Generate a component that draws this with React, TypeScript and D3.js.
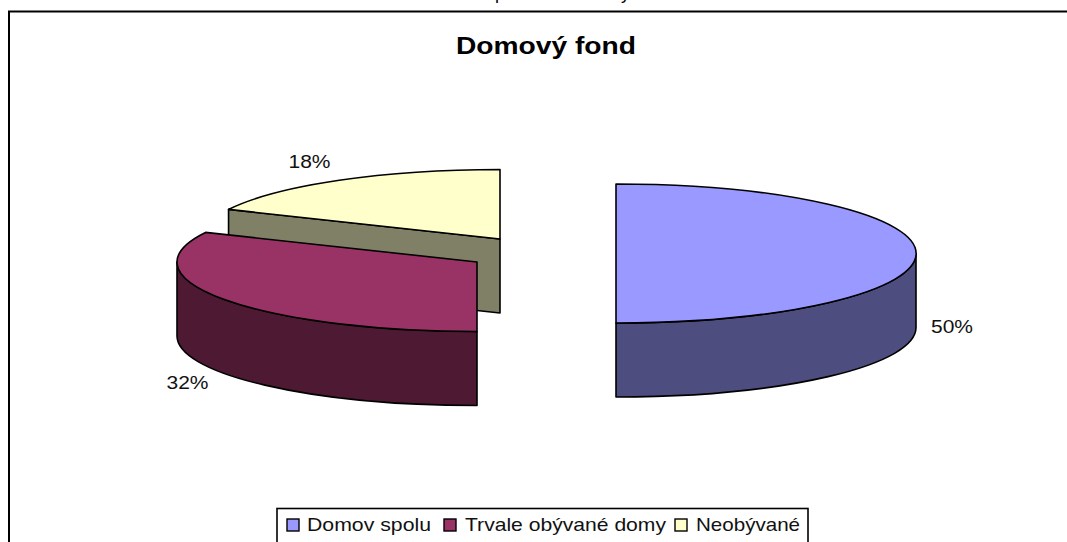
import React from "react";
import * as d3 from "d3";

const categories = ["Domov spolu", "Trvale obývané domy", "Neobývané"];
const values = [50, 32, 18];
const labels = ["50%", "32%", "18%"];
const topColors = ["#9999FF", "#993366", "#FFFFCC"];
const sideColors = ["#4D4D80", "#4D1933", "#808066"];

const RX = 300, RY = 69.5, DEPTH = 74;
const centers = [
  { x: 616, y: 253.5 },
  { x: 477, y: 262 },
  { x: 500, y: 239 },
];
const labelPos = [
  { x: 952, y: 333 },
  { x: 187.5, y: 389 },
  { x: 309.5, y: 168 },
];
const legendSwatchX = [287, 444, 675];
const legendTextX = [307, 465, 696];
const legendTextW = [124, 201, 104];

const pt = (c: { x: number; y: number }, a: number, dy = 0): [number, number] => [
  c.x + RX * Math.sin(a),
  c.y - RY * Math.cos(a) + dy,
];

const pieGen = d3.pie<number>().sort(null);
const arcs = pieGen(values);

function topPath(i: number) {
  const c = centers[i], a0 = arcs[i].startAngle, a1 = arcs[i].endAngle;
  const p0 = pt(c, a0), p1 = pt(c, a1);
  return `M${c.x},${c.y}L${p0}A${RX},${RY} 0 ${a1 - a0 > Math.PI ? 1 : 0} 1 ${p1}Z`;
}
function wallPath(i: number, a0: number, a1: number) {
  const c = centers[i];
  const p0 = pt(c, a0), p1 = pt(c, a1), q1 = pt(c, a1, DEPTH), q0 = pt(c, a0, DEPTH);
  return `M${p0}A${RX},${RY} 0 0 1 ${p1}L${q1}A${RX},${RY} 0 0 0 ${q0}Z`;
}
function cutPath(i: number, a: number) {
  const c = centers[i];
  const p = pt(c, a), q = pt(c, a, DEPTH);
  return `M${c.x},${c.y}L${p}L${q}L${c.x},${c.y + DEPTH}Z`;
}

const font = "Liberation Sans, Arial, sans-serif";
const stroke = { stroke: "#000", strokeWidth: 1.6, strokeLinejoin: "round" as const };

export default function App() {
  return (
    <svg width={1067} height={542} style={{ position: "absolute", left: 0, top: 0, background: "#fff" }}>
      <text x={495} y={-1} fontFamily={font} fontSize={18} fill="#000">p</text>
      <text x={621} y={-1} fontFamily={font} fontSize={18} fill="#000">y</text>
      <path d="M9,542V11.5H1067" fill="none" stroke="#000" strokeWidth={2} />
      <text x={456} y={54} fontFamily={font} fontSize={23.5} fontWeight={700} textLength={180} lengthAdjust="spacingAndGlyphs">
        Domový fond
      </text>

      <path d={cutPath(2, arcs[2].startAngle)} fill={sideColors[2]} {...stroke} />
      <path d={topPath(2)} fill={topColors[2]} {...stroke} />

      <path d={wallPath(1, Math.PI, 1.5 * Math.PI)} fill={sideColors[1]} {...stroke} />
      <path d={topPath(1)} fill={topColors[1]} {...stroke} />

      <path d={wallPath(0, Math.PI / 2, Math.PI)} fill={sideColors[0]} {...stroke} />
      <path d={topPath(0)} fill={topColors[0]} {...stroke} />

      {labels.map((t, i) => (
        <text key={t} x={labelPos[i].x - 21} y={labelPos[i].y} fontFamily={font} fontSize={18} fill="#111" textLength={42} lengthAdjust="spacingAndGlyphs">
          {t}
        </text>
      ))}

      <rect x={277} y={508.5} width={531} height={35} fill="#fff" stroke="#000" strokeWidth={1.6} />
      {categories.map((c, i) => (
        <g key={c}>
          <rect x={legendSwatchX[i]} y={519} width={12} height={12} fill={topColors[i]} stroke="#000" strokeWidth={1.4} />
          <text x={legendTextX[i]} y={531} fontFamily={font} fontSize={18.5} fill="#111" textLength={legendTextW[i]} lengthAdjust="spacingAndGlyphs">
            {c}
          </text>
        </g>
      ))}
    </svg>
  );
}
